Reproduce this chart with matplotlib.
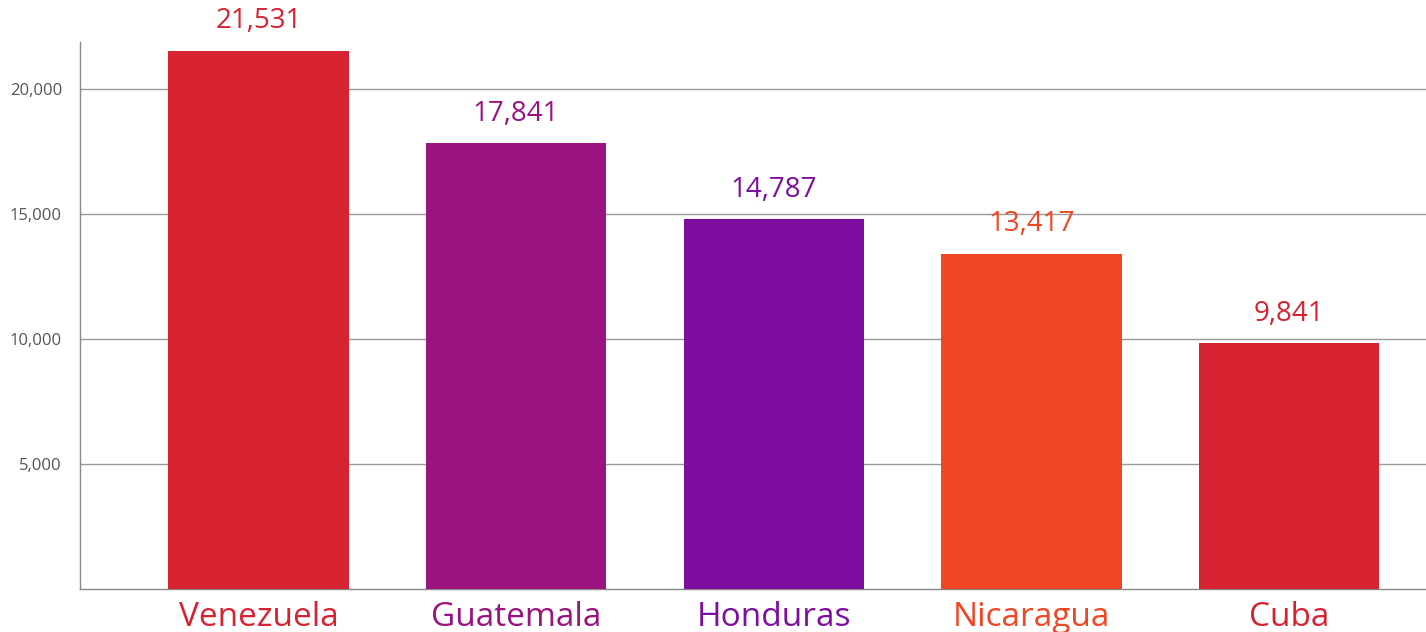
import matplotlib
matplotlib.use("Agg")
import matplotlib.pyplot as plt
from matplotlib.ticker import FuncFormatter

countries = ["Venezuela", "Guatemala", "Honduras", "Nicaragua", "Cuba"]
values = [21531, 17841, 14787, 13417, 9841]
colors = ["#D62231", "#9A137E", "#7D0EA0", "#EF4625", "#D62231"]
yticks = [5000, 10000, 15000, 20000]

plt.rcParams["font.family"] = ["Open Sans", "DejaVu Sans"]

fig = plt.figure(figsize=(14.26, 6.32), dpi=100)
ax = fig.add_axes([80 / 1426, 43 / 632, 1 - 80 / 1426, 547 / 632])

x = list(range(len(countries)))
ax.bar(x, values, width=0.7, color=colors, zorder=3)

for xi, v, c in zip(x, values, colors):
    ax.annotate(
        f"{v:,}",
        (xi, v),
        xytext=(0, 11),
        textcoords="offset points",
        ha="center",
        va="bottom",
        fontsize=20,
        color=c,
    )

ax.set_xlim(-0.693, 4.532)
ax.set_ylim(0, 21880)
ax.set_yticks(yticks)
ax.yaxis.set_major_formatter(FuncFormatter(lambda v, p: f"{int(v):,}"))
ax.grid(axis="y", color="#999999", linewidth=1.0, zorder=0)

ax.set_xticks(x)
ax.set_xticklabels(countries, fontsize=24)
for lbl, c in zip(ax.get_xticklabels(), colors):
    lbl.set_color(c)

ax.tick_params(axis="x", length=0, pad=9)
ax.tick_params(axis="y", length=0, pad=13, labelsize=12, labelcolor="#555555")

for side in ["top", "right"]:
    ax.spines[side].set_visible(False)
for side in ["left", "bottom"]:
    ax.spines[side].set_color("#888888")
    ax.spines[side].set_linewidth(1.0)

fig.savefig("out.png", dpi=100)
